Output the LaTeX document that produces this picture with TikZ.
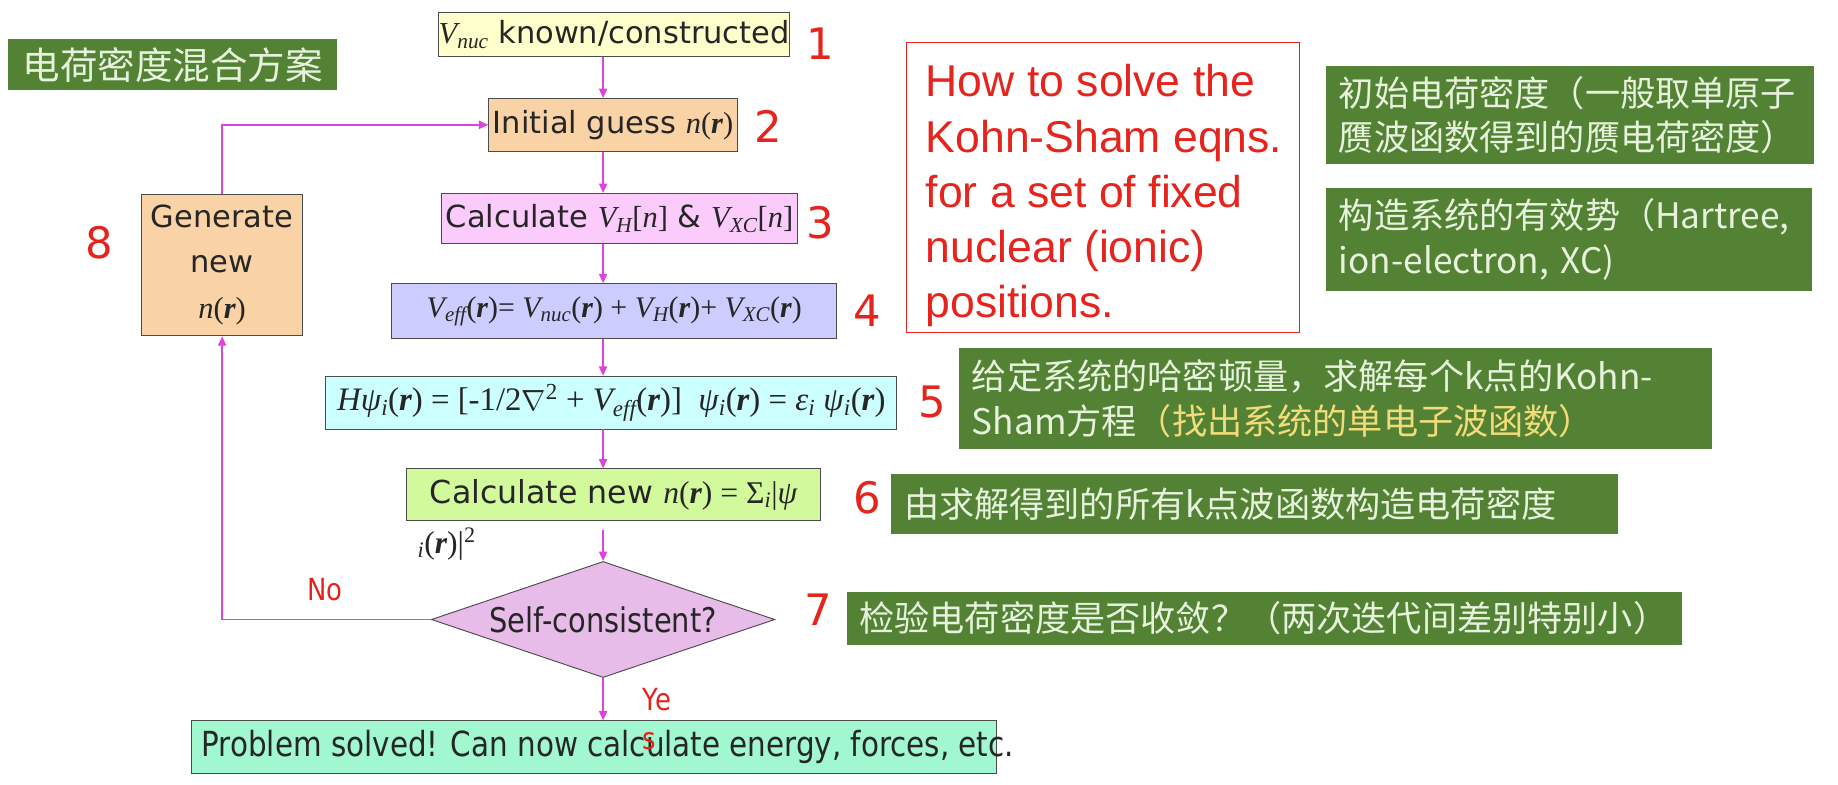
\documentclass[tikz,border=0pt]{standalone}
\usepackage{fontspec}
\setmainfont{DejaVu Sans}
\newfontfamily\tnr{Liberation Serif}
\newfontfamily\cjk{Noto Sans CJK SC}
\newfontfamily\arialf{Liberation Sans}
\newfontfamily\condf[FakeStretch=0.85]{DejaVu Sans}
\usetikzlibrary{arrows.meta, positioning, shapes.geometric}

\definecolor{kgreen}{HTML}{548235}
\definecolor{ktext}{HTML}{E6F2DC}
\definecolor{kgold}{HTML}{F2DC7A}
\definecolor{numred}{HTML}{E5251D}
\definecolor{flowpink}{HTML}{DD44DD}
\definecolor{fillnuc}{HTML}{FFFFCC}
\definecolor{fillguess}{HTML}{F9D3A6}
\definecolor{fillcalc}{HTML}{FBCBFB}
\definecolor{filleff}{HTML}{CCCCFF}
\definecolor{fillks}{HTML}{CCFFFF}
\definecolor{fillnew}{HTML}{D2FA9C}
\definecolor{filldia}{HTML}{E8BCE8}
\definecolor{fillend}{HTML}{A0F7D0}

% 公式里的字母
\newcommand{\mv}[1]{{\tnr\itshape #1}}
\newcommand{\bfr}{{\tnr\bfseries\itshape r}}
\newcommand{\Vsub}[1]{\mv{V}\textsubscript{\mv{#1}}}
\newcommand{\nr}{\mv{n}{\tnr(}\bfr{\tnr)}}

\tikzset{
  flowbox/.style={draw=black!70, line width=0.8pt, inner sep=0pt, text=black!85,
    font=\fontsize{26}{30}\selectfont},
  flow/.style={draw=flowpink, line width=1.3pt, -{Triangle[length=8pt,width=7pt]}},
  stepno/.style={text=numred, font=\fontsize{37}{40}\selectfont},
  note/.style={fill=kgreen, text=ktext, font=\cjk\fontsize{30}{38}\selectfont,
    align=left, inner xsep=11pt, anchor=north west},
  answer/.style={text=numred, inner sep=0pt, font=\condf\fontsize{26}{33}\selectfont}
}

\begin{document}
\begin{tikzpicture}[x=1pt, y=-1pt]
    \useasboundingbox (0,0) rectangle (1568,669);

    % 标题
    \node[fill=kgreen, text=ktext, font=\cjk\fontsize{32}{38}\selectfont,
      minimum width=280pt, minimum height=44pt, anchor=north west] (title) at (7,33) {电荷密度混合方案};

    % 主流程
    \node[flowbox, fill=fillnuc, minimum width=294pt, minimum height=37pt] (nuc) at (524,29.5)
      {\Vsub{nuc} known/constructed};
    \node[flowbox, fill=fillguess, minimum width=212pt, minimum height=45pt] (guess) at (523,106.5)
      {Initial guess \nr};
    \node[flowbox, fill=fillcalc, minimum width=303pt, minimum height=43pt] (calc) at (528.5,186.5)
      {Calculate \Vsub{H}{\tnr[}\mv{n}{\tnr]} \& \Vsub{XC}{\tnr[}\mv{n}{\tnr]}};
    \node[flowbox, fill=filleff, minimum width=380pt, minimum height=47pt,
      font=\tnr\fontsize{25.5}{30}\selectfont] (eff) at (524,265.5)
      {\Vsub{eff}(\bfr)= \Vsub{nuc}(\bfr) + \Vsub{H}(\bfr)+ \Vsub{XC}(\bfr)};
    \node[flowbox, fill=fillks, minimum width=487pt, minimum height=45pt,
      font=\tnr\fontsize{28}{30}\selectfont] (ks) at (521.5,343.5)
      {\mv{H}\mv{ψ}\textsubscript{\mv{i}}(\bfr) = [-1/2$\nabla$\textsuperscript{2} + \Vsub{eff}(\bfr)]~~\mv{ψ}\textsubscript{\mv{i}}(\bfr) = \mv{ε}\textsubscript{\mv{i}}~\mv{ψ}\textsubscript{\mv{i}}(\bfr)};
    \node[flowbox, fill=fillnew, minimum width=353pt, minimum height=44pt,
      font=\fontsize{27}{30}\selectfont] (newn) at (523.5,422)
      {Calculate new \nr{\tnr\ = Σ\textsubscript{\mv{i}}|\mv{ψ}}};
    \node[font=\tnr\fontsize{27}{30}\selectfont, text=black!85, inner sep=0pt, anchor=west] (newtail) at (356,464)
      {\textsubscript{\mv{i}}(\bfr)|\textsuperscript{2}};
    \coordinate (newout) at (514.5,452);
    \node[diamond, aspect=3, draw=black!70, line width=0.8pt, fill=filldia, inner sep=0pt,
      minimum width=293pt, minimum height=99pt, text=black!85,
      font=\condf\fontsize{29}{30}\selectfont] (check) at (514.5,528.5) {Self-consistent?};
    \node[flowbox, fill=fillend, minimum width=687pt, minimum height=45pt,
      font=\condf\fontsize{29.5}{30}\selectfont] (done) at (506.5,637.5)
      {\makebox[0pt]{\hspace*{24pt}\raisebox{-3pt}{Problem solved! Can now calculate energy, forces, etc.}}};
    \node[flowbox, fill=fillguess, minimum width=137pt, minimum height=121pt, align=center,
      font=\fontsize{26}{39}\selectfont] (gen) at (189.5,226) {Generate\\new\\\nr};

    % 步骤编号
    \node[stepno] (n1) at (700,37) {1};
    \node[stepno] (n2) at (655,108) {2};
    \node[stepno] (n3) at (700,190) {3};
    \node[stepno] (n4) at (740,265) {4};
    \node[stepno] (n5) at (795,343) {5};
    \node[stepno] (n6) at (740,425) {6};
    \node[stepno] (n7) at (698,520) {7};
    \node[stepno] (n8) at (85,207) {8};

    % 箭头
    \draw[flow] (nuc.south -| check.north) -- (guess.north -| check.north);
    \draw[flow] (guess.south -| check.north) -- (calc.north -| check.north);
    \draw[flow] (calc.south -| check.north) -- (eff.north -| check.north);
    \draw[flow] (eff.south -| check.north) -- (ks.north -| check.north);
    \draw[flow] (ks.south -| check.north) -- (newn.north -| check.north);
    \draw[flow] (newout) -- (check.north);
    \draw[flow] (check.south) -- (done.north -| check.south);
    \draw[flow] (check.west) -- (check.west -| gen.south) -- (gen.south);
    \draw[flow] (gen.north) |- (guess.west);
    \node[answer] (no) at (277,503) {No};
    \node[answer, align=left, anchor=north west] (yes) at (548,587) {Ye\\s};

    % 右侧说明
    \node[draw=numred, line width=0.8pt, minimum width=335pt, minimum height=247pt,
      anchor=north west] (howframe) at (773,36) {};
    \node[text=numred, font=\arialf\fontsize{38}{47}\selectfont, align=left]
      (howto) at ([xshift=1pt, yshift=-7pt]howframe.center)
      {How to solve the\\Kohn-Sham eqns.\\for a set of fixed\\nuclear (ionic)\\positions.};
    \node[note, text width=394pt, minimum height=84pt] (initnote) at (1131,56)
      {初始电荷密度（一般取单原子\\赝波函数得到的赝电荷密度）};
    \node[note, text width=393pt, minimum height=88pt] (potnote) at (1131,160)
      {构造系统的有效势（Hartree,\\ion-electron, XC)};
    \node[note, text width=620pt, minimum height=86pt] (ksnote) at (818,297)
      {给定系统的哈密顿量，求解每个k点的Kohn-\\Sham方程{\color{kgold}（找出系统的单电子波函数）}};
    \node[note, text width=598pt, minimum height=51pt] (densnote) at (760,404)
      {由求解得到的所有k点波函数构造电荷密度};
    \node[note, text width=691pt, minimum height=45pt] (convnote) at (722,505)
      {检验电荷密度是否收敛？（两次迭代间差别特别小）};
\end{tikzpicture}
\end{document}
